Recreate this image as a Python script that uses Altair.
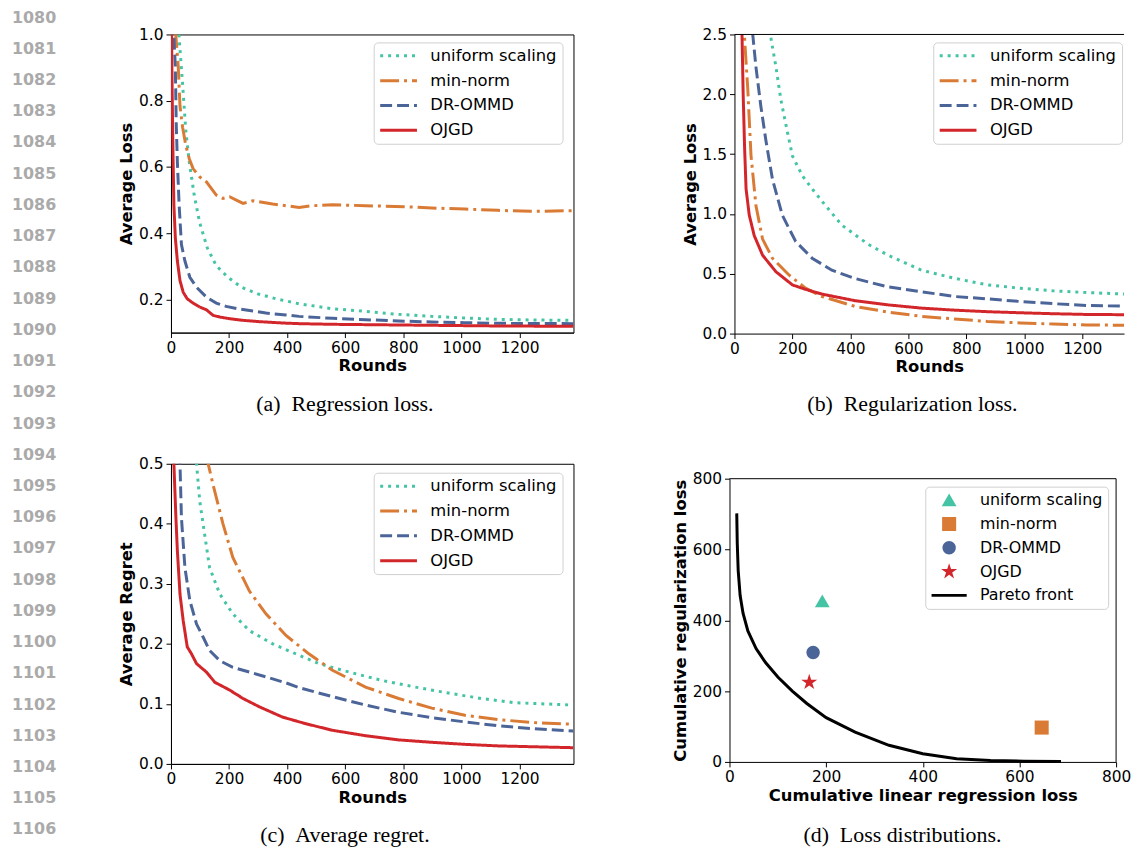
import altair as alt
import pandas as pd

FONT = "DejaVu Sans"
SERIF = "Liberation Serif"

METHODS = ["uniform scaling", "min-norm", "DR-OMMD", "OJGD"]
COLORS = ["#45C4A5", "#DA7B35", "#4C6599", "#D3262B"]
DASHES = [[3, 5], [19, 5, 3, 5], [12, 5], [1, 0]]
ROUND_TICKS = [0, 200, 400, 600, 800, 1000, 1200]
LINE_NUMBERS = [1080, 1081, 1082, 1083, 1084, 1085, 1086, 1087, 1088, 1089, 1090,
                1091, 1092, 1093, 1094, 1095, 1096, 1097, 1098, 1099, 1100, 1101,
                1102, 1103, 1104, 1105, 1106]

# ---------------- (a) regression loss ----------------
A_UNI_R = [1, 15, 28, 40, 51, 63, 80, 99, 125, 156, 196, 242, 299, 362, 441, 556, 670, 784, 898, 1012, 1126, 1250, 1386]
A_UNI_V = [2.2, 1.3, 0.99, 0.85, 0.71, 0.615, 0.515, 0.431, 0.356, 0.302, 0.267, 0.237, 0.217, 0.202, 0.187, 0.172, 0.164, 0.155, 0.149, 0.144, 0.140, 0.138, 0.137]
A_MIN_R = [1, 17, 25, 31, 40, 51, 63, 76, 99, 122, 156, 179, 202, 225, 248, 282, 350, 441, 487, 556, 670, 806, 898, 1012, 1126, 1240, 1386]
A_MIN_V = [1.4, 0.993, 0.903, 0.784, 0.72, 0.665, 0.625, 0.595, 0.57, 0.555, 0.515, 0.505, 0.51, 0.5, 0.49, 0.498, 0.488, 0.478, 0.483, 0.486, 0.483, 0.48, 0.476, 0.473, 0.469, 0.466, 0.468]
A_DR_R = [1, 10, 15, 18, 22, 28, 36, 48, 65, 88, 122, 156, 190, 236, 282, 327, 396, 441, 556, 670, 784, 898, 1012, 1126, 1386]
A_DR_V = [1.5, 0.993, 0.903, 0.734, 0.615, 0.486, 0.366, 0.316, 0.267, 0.237, 0.207, 0.189, 0.179, 0.171, 0.165, 0.159, 0.153, 0.149, 0.143, 0.139, 0.135, 0.132, 0.13, 0.128, 0.127]
A_OJ_R = [1, 2, 4, 7, 10, 15, 22, 31, 42, 56, 76, 99, 122, 145, 168, 202, 248, 305, 384, 441, 556, 670, 784, 898, 1126, 1386]
A_OJ_V = [1.3, 0.99, 0.834, 0.635, 0.486, 0.386, 0.316, 0.257, 0.222, 0.202, 0.189, 0.177, 0.169, 0.152, 0.147, 0.142, 0.137, 0.133, 0.129, 0.127, 0.125, 0.124, 0.123, 0.122, 0.12, 0.119]

# ---------------- (b) regularization loss (visible up to ~1344 rounds) ----------------
B_UNI_R = [100, 125, 143, 160, 183, 200, 234, 268, 314, 371, 462, 530, 645, 759, 873, 987, 1101, 1215, 1344]
B_UNI_V = [3.2, 2.48, 2.23, 1.955, 1.68, 1.485, 1.32, 1.21, 1.07, 0.905, 0.745, 0.655, 0.53, 0.462, 0.407, 0.379, 0.357, 0.343, 0.331]
B_MIN_R = [20, 34, 46, 57, 74, 97, 131, 188, 245, 302, 416, 530, 645, 759, 873, 987, 1101, 1215, 1344]
B_MIN_V = [4.0, 2.5, 2.04, 1.49, 1.07, 0.79, 0.63, 0.49, 0.38, 0.31, 0.227, 0.18, 0.144, 0.122, 0.102, 0.089, 0.08, 0.072, 0.07]
B_DR_R = [40, 63, 74, 91, 108, 131, 165, 211, 268, 336, 416, 530, 645, 759, 873, 987, 1101, 1215, 1344]
B_DR_V = [3.5, 2.5, 2.23, 1.9, 1.62, 1.29, 0.99, 0.77, 0.63, 0.53, 0.46, 0.39, 0.35, 0.31, 0.29, 0.268, 0.25, 0.235, 0.229]
B_OJ_R = [15, 26, 30, 35, 40, 51, 68, 97, 143, 200, 245, 302, 416, 530, 645, 759, 873, 987, 1101, 1215, 1344]
B_OJ_V = [4.0, 2.5, 2.0, 1.55, 1.21, 0.99, 0.82, 0.655, 0.517, 0.407, 0.37, 0.33, 0.275, 0.24, 0.213, 0.196, 0.183, 0.174, 0.166, 0.16, 0.158]

# ---------------- (c) average regret ----------------
C_UNI_R = [60, 88, 99, 116, 133, 168, 213, 270, 350, 441, 510, 613, 727, 841, 955, 1069, 1183, 1386]
C_UNI_V = [0.7, 0.5, 0.438, 0.382, 0.327, 0.283, 0.25, 0.222, 0.2, 0.181, 0.167, 0.153, 0.139, 0.128, 0.118, 0.109, 0.102, 0.098]
C_MIN_R = [100, 128, 145, 179, 213, 270, 327, 396, 476, 556, 670, 784, 898, 1012, 1126, 1240, 1386]
C_MIN_V = [0.62, 0.5, 0.465, 0.4, 0.344, 0.288, 0.25, 0.214, 0.183, 0.156, 0.128, 0.109, 0.093, 0.081, 0.074, 0.069, 0.066]
C_DR_R = [15, 31, 36, 48, 65, 88, 111, 133, 168, 213, 270, 327, 396, 441, 556, 670, 784, 898, 1012, 1126, 1240, 1386]
C_DR_V = [0.8, 0.5, 0.41, 0.327, 0.272, 0.233, 0.211, 0.189, 0.172, 0.161, 0.153, 0.145, 0.135, 0.127, 0.112, 0.098, 0.086, 0.077, 0.07, 0.0635, 0.059, 0.0547]
C_OJ_R = [5, 10, 17, 22, 31, 42, 56, 71, 88, 122, 151, 202, 248, 305, 384, 464, 556, 670, 784, 898, 1012, 1126, 1386]
C_OJ_V = [0.8, 0.5, 0.41, 0.355, 0.283, 0.239, 0.195, 0.183, 0.167, 0.153, 0.136, 0.123, 0.109, 0.095, 0.078, 0.067, 0.056, 0.047, 0.040, 0.036, 0.0326, 0.030, 0.027]

# ---------------- (d) loss distributions ----------------
D_POINT_X = [192, 646, 173, 165]
D_POINT_Y = [454, 97, 309, 225]
PARETO_X = [15, 16, 18, 22, 28, 38, 55, 75, 100, 130, 160, 200, 260, 330, 400, 470, 540, 610, 686]
PARETO_Y = [702, 620, 540, 470, 420, 370, 320, 280, 240, 200, 165, 125, 84, 47, 23, 9, 4, 2, 1]

# marker outlines in unit space
TRI = "M0,-0.95L1.05,0.87L-1.05,0.87Z"
SQR = "M-1,-1L1,-1L1,1L-1,1Z"
CIR = "M-0.95,0A0.95,0.95,0,1,0,0.95,0A0.95,0.95,0,1,0,-0.95,0Z"
STAR = ("M0,-1.2L0.269,-0.371L1.141,-0.371L0.436,0.142L0.706,0.971L0,0.458"
        "L-0.706,0.971L-0.436,0.142L-1.141,-0.371L-0.269,-0.371Z")
BAR = "M-2.5,-0.2L2.5,-0.2L2.5,0.2L-2.5,0.2Z"
D_SHAPES = [TRI, SQR, CIR, STAR, BAR]


def long_df(series):
    rows = []
    for m, rs, vs in series:
        for r, v in zip(rs, vs):
            rows.append({"method": m, "round": r, "value": v})
    return pd.DataFrame(rows)


def line_legend(lx, ly):
    return alt.Legend(
        title=None, orient="none", legendX=lx, legendY=ly,
        symbolType="stroke", symbolSize=1369, symbolStrokeWidth=3,
        clipHeight=17, rowPadding=8, labelOffset=12, padding=5,
        fillColor="rgba(255,255,255,0.8)", strokeColor="#d0d0d0",
        cornerRadius=4, labelFont=FONT, labelFontSize=16.5,
        labelColor="black", labelLimit=400,
    )


def caption_layer(text, cx, cy):
    return alt.Chart(pd.DataFrame({"c": [text]})).mark_text(
        font=SERIF, fontSize=22, align="center", baseline="alphabetic", color="black"
    ).encode(x=alt.value(cx), y=alt.value(cy), text="c:N")


def lines_layer(df, xmax, ydomain, yvalues, ytitle, lx, ly):
    leg = line_legend(lx, ly)
    return alt.Chart(df).mark_line(clip=True, strokeWidth=3, strokeCap="butt").encode(
        x=alt.X("round:Q", scale=alt.Scale(domain=[0, xmax], nice=False, zero=False),
                axis=alt.Axis(title="Rounds", values=ROUND_TICKS, format="d")),
        y=alt.Y("value:Q", scale=alt.Scale(domain=ydomain, nice=False, zero=False),
                axis=alt.Axis(title=ytitle, values=yvalues, format=".1f")),
        color=alt.Color("method:N", scale=alt.Scale(domain=METHODS, range=COLORS), legend=leg),
        strokeDash=alt.StrokeDash("method:N", scale=alt.Scale(domain=METHODS, range=DASHES), legend=leg),
        order=alt.Order("round:Q"),
    )


# panel a
df_a = long_df([(METHODS[0], A_UNI_R, A_UNI_V), (METHODS[1], A_MIN_R, A_MIN_V),
                (METHODS[2], A_DR_R, A_DR_V), (METHODS[3], A_OJ_R, A_OJ_V)])
ln_df = pd.DataFrame({"n": LINE_NUMBERS, "label": [str(v) for v in LINE_NUMBERS]})
line_numbers = alt.Chart(ln_df).mark_text(
    align="left", baseline="middle", font=FONT, fontWeight="bold", fontSize=16, color="#aaaaaa"
).encode(
    x=alt.value(-160),
    y=alt.Y("n:Q", scale=alt.Scale(domain=[1080, 1106], range=[-17, 800]), axis=None),
    text="label:N",
)
panel_a = alt.layer(
    lines_layer(df_a, 1386, [0.1, 1.0], [0.2, 0.4, 0.6, 0.8, 1.0], "Average Loss", 204, 8),
    line_numbers,
    caption_layer("(a)\u00a0\u00a0Regression loss.", 175, 379),
).resolve_scale(y="independent").properties(width=405, height=300)

# panel b (its right part falls outside the page, as in the original)
df_b = long_df([(METHODS[0], B_UNI_R, B_UNI_V), (METHODS[1], B_MIN_R, B_MIN_V),
                (METHODS[2], B_DR_R, B_DR_V), (METHODS[3], B_OJ_R, B_OJ_V)])
top_b = alt.Chart(pd.DataFrame({"x": [0], "x2": [1344], "y": [2.5]})).mark_rule(
    color="black", strokeWidth=1
).encode(x="x:Q", x2="x2:Q", y="y:Q")
panel_b = alt.layer(
    lines_layer(df_b, 1344, [0.0, 2.5], [0.0, 0.5, 1.0, 1.5, 2.0, 2.5], "Average Loss", 200, 8),
    top_b,
    caption_layer("(b)\u00a0\u00a0Regularization loss.", 179, 379),
).properties(width=392, height=301, view=alt.ViewBackground(stroke="transparent", strokeWidth=0))

# panel c
df_c = long_df([(METHODS[0], C_UNI_R, C_UNI_V), (METHODS[1], C_MIN_R, C_MIN_V),
                (METHODS[2], C_DR_R, C_DR_V), (METHODS[3], C_OJ_R, C_OJ_V)])
panel_c = alt.layer(
    lines_layer(df_c, 1386, [0.0, 0.5], [0.0, 0.1, 0.2, 0.3, 0.4, 0.5], "Average Regret", 204, 9),
    caption_layer("(c)\u00a0\u00a0Average regret.", 175, 381),
).properties(width=405, height=302)

# panel d
pts_df = pd.DataFrame({"method": METHODS, "x": D_POINT_X, "y": D_POINT_Y})
par_df = pd.DataFrame({"x": PARETO_X, "y": PARETO_Y})
frame_df = pd.DataFrame({"x": [0, 800], "x2": [800, 800], "y": [800, 0], "y2": [800, 800]})
DOM_D = METHODS + ["Pareto front"]
xd = alt.X("x:Q", scale=alt.Scale(domain=[0, 800], range=[-5, 384], nice=False, zero=False),
           axis=alt.Axis(title="Cumulative linear regression loss", values=[0, 200, 400, 600, 800], format="d"))
yd = alt.Y("y:Q", scale=alt.Scale(domain=[0, 800], range=[300, 15], nice=False, zero=False),
           axis=alt.Axis(title="Cumulative regularization loss", values=[0, 200, 400, 600, 800], format="d", offset=5))
leg_d = alt.Legend(
    title=None, orient="none", legendX=192, legendY=23,
    symbolSize=200, symbolStrokeWidth=0, symbolOpacity=1, symbolOffset=11,
    clipHeight=17, rowPadding=7, labelOffset=23, padding=5,
    fillColor="rgba(255,255,255,0.8)", strokeColor="#d0d0d0",
    cornerRadius=4, labelFont=FONT, labelFontSize=16, labelColor="black", labelLimit=400,
)
pareto = alt.Chart(par_df).mark_line(color="black", strokeWidth=3).encode(x=xd, y=yd)
points = alt.Chart(pts_df).mark_point(filled=True, size=200, opacity=1).encode(
    x=alt.X("x:Q"), y=alt.Y("y:Q"),
    color=alt.Color("method:N", scale=alt.Scale(domain=DOM_D, range=COLORS + ["black"]), legend=leg_d),
    shape=alt.Shape("method:N", scale=alt.Scale(domain=DOM_D, range=D_SHAPES), legend=leg_d),
)
frame_d = alt.Chart(frame_df).mark_rule(color="black", strokeWidth=1).encode(
    x="x:Q", x2="x2:Q", y="y:Q", y2="y2:Q"
)
panel_d = alt.layer(
    pareto, points, frame_d,
    caption_layer("(d)\u00a0\u00a0Loss distributions.", 169, 381),
).properties(width=384, height=300, view=alt.ViewBackground(stroke="transparent", strokeWidth=0))

chart = alt.concat(
    panel_a, panel_b, panel_c, panel_d,
    columns=2, spacing=alt.RowColnumber(row=130, column=162), bounds="flush", align="all",
).resolve_scale(
    color="independent", strokeDash="independent", shape="independent"
).resolve_legend(
    color="independent", strokeDash="independent", shape="independent"
).properties(
    padding={"left": 3, "top": -2, "right": 0, "bottom": 0}
).configure_view(
    stroke="black", strokeWidth=1
).configure_axis(
    labelFont=FONT, labelFontSize=15.5, labelColor="black",
    titleFont=FONT, titleFontSize=16.5, titleFontWeight="bold", titleColor="black",
    domainColor="black", domainWidth=1, tickColor="black", tickWidth=1, tickSize=5,
    grid=False, labelFlush=False, labelPadding=3,
).configure_axisX(titlePadding=2).configure_axisY(titlePadding=4)

chart.save("out.html", embed_options={"renderer": "svg", "actions": False})
